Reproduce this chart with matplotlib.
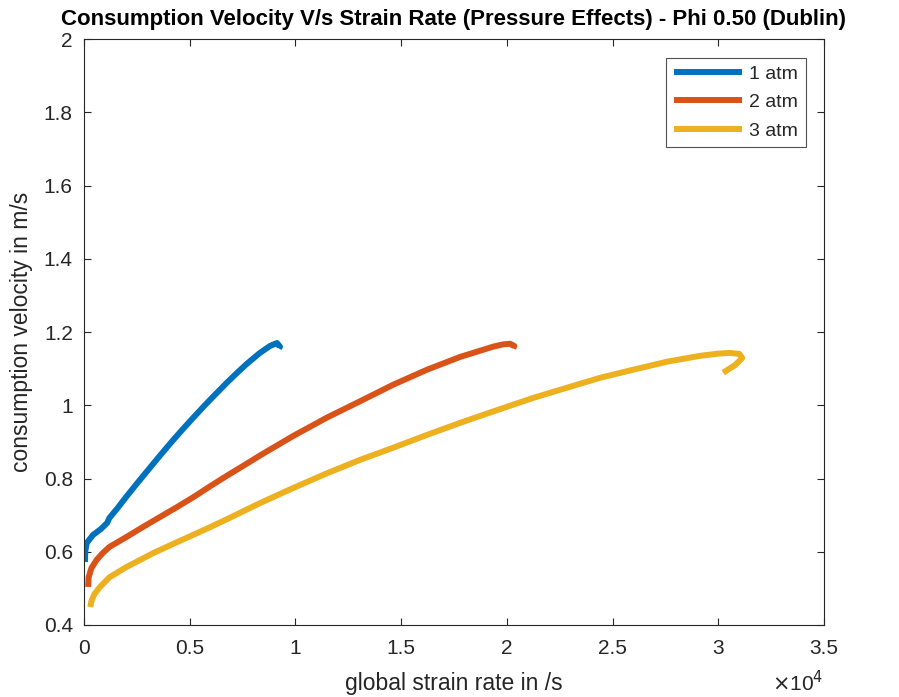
import matplotlib
matplotlib.use("Agg")
import matplotlib.pyplot as plt

plt.rcParams['font.family'] = ['Liberation Sans', 'DejaVu Sans']

# strain rate (x1e4 /s) and consumption velocity (m/s)
x1 = [0.005, 0.006, 0.013, 0.043, 0.08, 0.11, 0.12, 0.16, 0.20, 0.25, 0.30, 0.35, 0.41, 0.46, 0.52,
      0.57, 0.61, 0.68, 0.725, 0.77, 0.83, 0.88, 0.913, 0.927, 0.922]
y1 = [0.572, 0.60, 0.624, 0.646, 0.662, 0.679, 0.692, 0.72, 0.75, 0.786, 0.821, 0.856, 0.897, 0.930, 0.968,
      0.999, 1.023, 1.064, 1.089, 1.113, 1.142, 1.162, 1.17, 1.16, 1.155]

x2 = [0.02, 0.022, 0.035, 0.06, 0.09, 0.12, 0.20, 0.28, 0.36, 0.44, 0.52, 0.60, 0.68, 0.76, 0.833,
      0.989, 1.148, 1.306, 1.462, 1.622, 1.779, 1.935, 1.98, 2.015, 2.035, 2.03]
y2 = [0.504, 0.530, 0.555, 0.578, 0.597, 0.613, 0.64, 0.668, 0.695, 0.722, 0.75, 0.780, 0.809, 0.837, 0.863,
      0.916, 0.966, 1.011, 1.056, 1.097, 1.132, 1.160, 1.166, 1.168, 1.162, 1.155]

x3 = [0.03, 0.035, 0.05, 0.076, 0.12, 0.20, 0.33, 0.42, 0.52, 0.60, 0.68, 0.833, 0.989, 1.148, 1.306, 1.462,
      1.622, 1.779, 1.935, 2.124, 2.285, 2.441, 2.597, 2.758, 2.914, 3.0, 3.056, 3.10, 3.113, 3.08, 3.023]
y3 = [0.449, 0.465, 0.485, 0.504, 0.53, 0.558, 0.597, 0.621, 0.647, 0.668, 0.690, 0.733, 0.774, 0.814, 0.851, 0.884,
      0.919, 0.952, 0.983, 1.020, 1.048, 1.075, 1.097, 1.119, 1.135, 1.141, 1.143, 1.140, 1.129, 1.11, 1.089]

labels = ['1 atm', '2 atm', '3 atm']
colors = ['#0072BD', '#D95319', '#EDB120']
xticks = [0, 0.5, 1, 1.5, 2, 2.5, 3, 3.5]
yticks = [0.4, 0.6, 0.8, 1.0, 1.2, 1.4, 1.6, 1.8, 2.0]

fig = plt.figure(figsize=(8.99, 6.97), dpi=100)
ax = fig.add_axes([0.0934, 0.1033, 0.8232, 0.8407])
for xs, ys, lab, c in zip([x1, x2, x3], [y1, y2, y3], labels, colors):
    ax.plot(xs, ys, color=c, lw=4.3, label=lab, solid_joinstyle='round', solid_capstyle='butt')

ax.set_xlim(0, 3.5)
ax.set_ylim(0.4, 2.0)
ax.set_xticks(xticks)
ax.set_xticklabels(['0', '0.5', '1', '1.5', '2', '2.5', '3', '3.5'])
ax.set_yticks(yticks)
ax.set_yticklabels(['0.4', '0.6', '0.8', '1', '1.2', '1.4', '1.6', '1.8', '2'])
gray = '#262626'
for s in ax.spines.values():
    s.set_color(gray)
    s.set_linewidth(0.8)
ax.tick_params(direction='in', top=True, right=True, length=5, width=0.8, colors=gray, labelsize=15)
ax.tick_params(axis='x', pad=10)
ax.tick_params(axis='y', pad=8)
ax.set_xlabel('global strain rate in /s', fontsize=16.5, color=gray, labelpad=10)
ax.set_ylabel('consumption velocity in m/s', fontsize=16.5, color=gray, labelpad=8)
ax.set_title('Consumption Velocity V/s Strain Rate (Pressure Effects) - Phi 0.50 (Dublin)',
             fontsize=16, fontweight='bold', color='black', pad=10)
fig.text(0.916, 0.002, r'$\times$10$^4$', fontsize=15, color=gray, ha='right', va='bottom')

leg = ax.legend(loc='upper right', fontsize=14, frameon=True, fancybox=False,
                edgecolor=gray, handlelength=3.5, borderaxespad=0.95, labelspacing=0.55,
                handletextpad=0.35, borderpad=0.4)
leg.get_frame().set_linewidth(0.8)
for t in leg.get_texts():
    t.set_color(gray)

fig.savefig('out.png', dpi=100)
